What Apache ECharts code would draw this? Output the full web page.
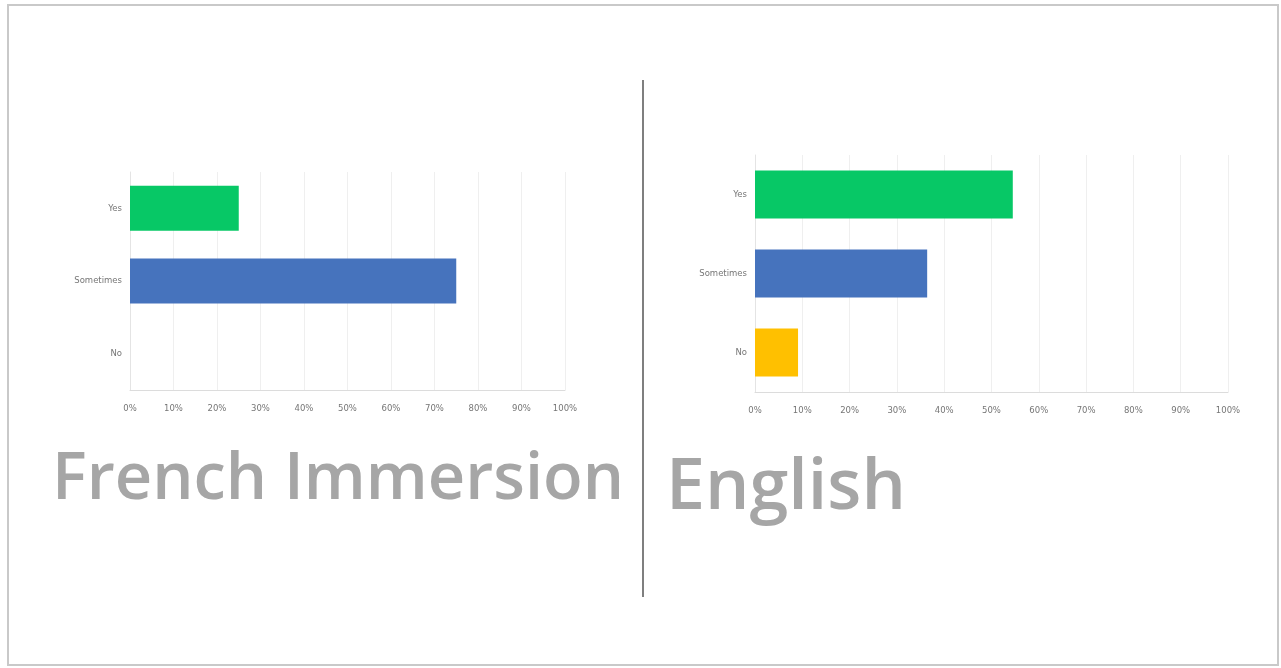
<!DOCTYPE html>
<html>
<head>
<meta charset="utf-8">
<script src="https://cdn.jsdelivr.net/npm/echarts@6/dist/echarts.min.js"></script>
<style>
  html, body { margin: 0; padding: 0; background: #ffffff; }
  #chart { width: 1281px; height: 668px; }
</style>
</head>
<body>
<div id="chart"></div>
<script>
// Survey answers, share of respondents (%)
const categories = ['Yes', 'Sometimes', 'No'];
const frenchImmersion = [25, 75, 0];
const english = [54.5, 36.4, 9.1];
const barColors = ['#07c866', '#4673bd', '#ffc000'];
const percentTicks = [0, 10, 20, 30, 40, 50, 60, 70, 80, 90, 100];
const panelTitles = ['French Immersion', 'English'];

const chart = echarts.init(document.getElementById('chart'), null, { renderer: 'canvas' });

function valueAxis(gridIndex) {
  return {
    type: 'value', gridIndex: gridIndex, min: 0, max: 100, interval: 10,
    axisLine: { show: true, lineStyle: { color: '#dcdcdc', width: 1 } },
    axisTick: { show: false },
    splitLine: { show: true, lineStyle: { color: '#efefef', width: 1 } },
    axisLabel: {
      color: '#767676', fontSize: 8.5, fontFamily: 'DejaVu Sans', margin: 14,
      formatter: v => percentTicks.includes(v) ? v + '%' : ''
    }
  };
}
function categoryAxis(gridIndex) {
  return {
    type: 'category', gridIndex: gridIndex, data: categories, inverse: true,
    axisLine: { show: true, lineStyle: { color: '#e4e4e4', width: 1 } },
    axisTick: { show: false },
    axisLabel: { color: '#767676', fontSize: 8.5, fontFamily: 'DejaVu Sans', margin: 8 }
  };
}
function coloured(values) {
  return values.map((v, i) => ({ value: v, itemStyle: { color: barColors[i] } }));
}

const option = {
  backgroundColor: '#ffffff',
  animation: false,
  grid: [
    { left: 130, top: 172, width: 435, height: 218 },
    { left: 755, top: 155, width: 473, height: 237 }
  ],
  xAxis: [valueAxis(0), valueAxis(1)],
  yAxis: [categoryAxis(0), categoryAxis(1)],
  series: [
    { type: 'bar', xAxisIndex: 0, yAxisIndex: 0, barWidth: 45, data: coloured(frenchImmersion) },
    { type: 'bar', xAxisIndex: 1, yAxisIndex: 1, barWidth: 48, data: coloured(english) }
  ],
  title: [
    { text: panelTitles[0], left: 47, top: 443,
      textStyle: { color: '#a6a6a6', fontSize: 65, fontWeight: 600, fontFamily: 'Open Sans' } },
    { text: panelTitles[1], left: 661, top: 449,
      textStyle: { color: '#a6a6a6', fontSize: 70, fontWeight: 600, fontFamily: 'Open Sans' } }
  ],
  graphic: [
    { type: 'rect', silent: true,
      shape: { x: 8, y: 5, width: 1270, height: 660 },
      style: { fill: null, stroke: '#c9c9c9', lineWidth: 2 } },
    { type: 'line', silent: true,
      shape: { x1: 643, y1: 80, x2: 643, y2: 597 },
      style: { stroke: '#555555', lineWidth: 1.5 } }
  ]
};
chart.setOption(option);
</script>
</body>
</html>
